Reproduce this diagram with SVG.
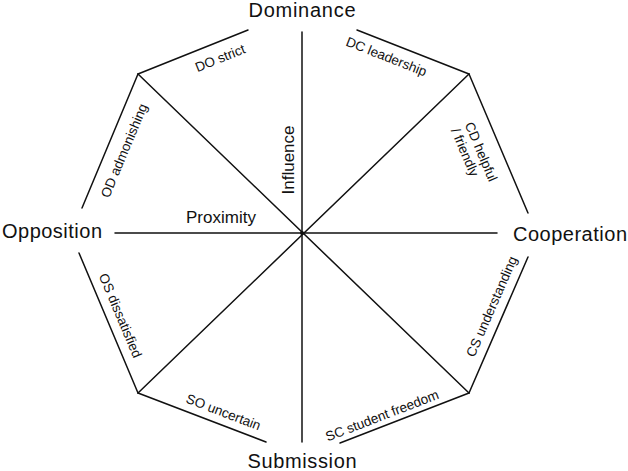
<svg xmlns="http://www.w3.org/2000/svg" width="628" height="471" viewBox="0 0 628 471">
<style>
.ln{stroke:#111;stroke-width:1.5;fill:none;stroke-linecap:round}
.big{font-family:"Liberation Sans",Arial,sans-serif;font-size:20px;fill:#111}
.mid{font-family:"Liberation Sans",Arial,sans-serif;font-size:17px;fill:#111}
.sm{font-family:"Liberation Sans",Arial,sans-serif;font-size:13.5px;fill:#111;text-anchor:middle}
</style>
<rect width="628" height="471" fill="#fff"/>
<g id="connectors">
<line class="ln" x1="302" y1="32" x2="302" y2="442"/>
<line class="ln" x1="115" y1="233" x2="497" y2="233"/>
<line class="ln" x1="138" y1="74" x2="469" y2="393"/>
<line class="ln" x1="469" y1="74" x2="138" y2="393"/>
<line class="ln" x1="138" y1="74" x2="248" y2="30"/>
<line class="ln" x1="357" y1="30" x2="469" y2="74"/>
<line class="ln" x1="469" y1="74" x2="528" y2="213"/>
<line class="ln" x1="528" y1="257" x2="469" y2="393"/>
<line class="ln" x1="469" y1="393" x2="340" y2="443"/>
<line class="ln" x1="138" y1="393" x2="266" y2="442"/>
<line class="ln" x1="79" y1="253" x2="138" y2="393"/>
<line class="ln" x1="82" y1="208" x2="138" y2="74"/>
<circle cx="302" cy="233" r="2" fill="#111"/>
</g>
<g id="dominance"><text class="big" x="302" y="17" text-anchor="middle" textLength="107">Dominance</text></g>
<g id="cooperation"><text class="big" x="513" y="241" textLength="114">Cooperation</text></g>
<g id="opposition"><text class="big" x="2" y="238" textLength="100">Opposition</text></g>
<g id="submission"><text class="big" x="302" y="468" text-anchor="middle" textLength="109">Submission</text></g>
<g id="influence"><text class="mid" transform="translate(294,160) rotate(-90)" text-anchor="middle">Influence</text></g>
<g id="proximity"><text class="mid" x="186" y="223">Proximity</text></g>
<g id="do"><text class="sm" transform="translate(220,58) rotate(-21.8)" dy=".35em">DO strict</text></g>
<g id="dc"><text class="sm" transform="translate(386.5,56.5) rotate(21.4)" dy=".35em">DC leadership</text></g>
<g id="cd"><text class="sm" transform="translate(475.5,158) rotate(67)" style="text-anchor:start"><tspan x="-35" y="-3">CD helpful</tspan><tspan x="-35" y="12">/ friendly</tspan></text></g>
<g id="cs"><text class="sm" transform="translate(491.5,306.5) rotate(-66.5)" dy=".35em">CS understanding</text></g>
<g id="sc"><text class="sm" transform="translate(382,415.5) rotate(-21.2)" dy=".35em">SC student freedom</text></g>
<g id="so"><text class="sm" transform="translate(223.5,412) rotate(20.9)" dy=".35em">SO uncertain</text></g>
<g id="os"><text class="sm" transform="translate(120.5,315.5) rotate(67.1)" dy=".35em">OS dissatisfied</text></g>
<g id="od"><text class="sm" transform="translate(124,150.5) rotate(-67.3)" dy=".35em">OD admonishing</text></g>
</svg>
